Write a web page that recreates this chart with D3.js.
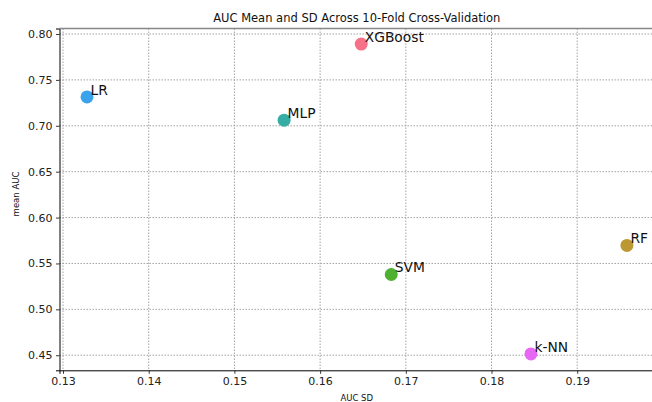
<!DOCTYPE html>
<html>
<head>
<meta charset="utf-8">
<script src="https://cdn.jsdelivr.net/npm/d3@7"></script>
<style>
  body { margin: 0; background: #fff; }
  svg { display: block; font-family: "DejaVu Sans", sans-serif; }
</style>
</head>
<body>
<svg id="chart" width="652" height="402"></svg>
<script>
const models = ["XGBoost", "RF", "SVM", "MLP", "LR", "k-NN"];
const aucSd = [0.1648, 0.1958, 0.1683, 0.1558, 0.1328, 0.1846];
const aucMean = [0.789, 0.5697, 0.538, 0.7061, 0.7314, 0.4514];
const colors = ["#f77189", "#bb9832", "#50b131", "#36ada4", "#3ba3ec", "#e866f4"];
const xTicks = [0.13, 0.14, 0.15, 0.16, 0.17, 0.18, 0.19];
const yTicks = [0.45, 0.50, 0.55, 0.60, 0.65, 0.70, 0.75, 0.80];

const svg = d3.select("#chart");
const plot = { left: 59.5, right: 654, top: 28.5, bottom: 370.3 };

const x = d3.scaleLinear().domain([0.12959, 0.19896]).range([plot.left, plot.right]);
const y = d3.scaleLinear().domain([0.4336, 0.806]).range([plot.bottom, plot.top]);

// grid
const grid = svg.append("g");
grid.selectAll("line.vx")
  .data(xTicks)
  .join("line")
  .attr("x1", d => x(d)).attr("x2", d => x(d))
  .attr("y1", plot.top).attr("y2", plot.bottom)
  .attr("stroke", "#999").attr("stroke-width", 0.9)
  .attr("stroke-dasharray", "1.5,1.5");
grid.selectAll("line.hy")
  .data(yTicks)
  .join("line")
  .attr("x1", plot.left).attr("x2", plot.right)
  .attr("y1", d => y(d)).attr("y2", d => y(d))
  .attr("stroke", "#999").attr("stroke-width", 0.9)
  .attr("stroke-dasharray", "1.5,1.5");

// axes
const xAxis = svg.append("g")
  .attr("transform", `translate(0,${plot.bottom})`)
  .call(d3.axisBottom(x).tickValues(xTicks).tickFormat(d3.format(".2f")).tickSize(3.5).tickPadding(3.5));
const yAxis = svg.append("g")
  .attr("transform", `translate(${plot.left},0)`)
  .call(d3.axisLeft(y).tickValues(yTicks).tickFormat(d3.format(".2f")).tickSize(3.5).tickPadding(3.5));
[xAxis, yAxis].forEach(a => {
  a.selectAll("text").attr("font-size", 11).attr("fill", "#222").attr("font-family", "DejaVu Sans, sans-serif");
  a.select(".domain").attr("stroke", "#000").attr("stroke-width", 1);
  a.selectAll(".tick line").attr("stroke", "#222").attr("stroke-width", 0.9);
});

// top spine (grey)
svg.append("line")
  .attr("x1", plot.left).attr("x2", plot.right)
  .attr("y1", plot.top).attr("y2", plot.top)
  .attr("stroke", "#888").attr("stroke-width", 1.5);

// points
svg.append("g").selectAll("circle")
  .data(models)
  .join("circle")
  .attr("cx", (d, i) => x(aucSd[i]))
  .attr("cy", (d, i) => y(aucMean[i]))
  .attr("r", 6.5)
  .attr("fill", (d, i) => colors[i]);

svg.append("g").selectAll("text")
  .data(models)
  .join("text")
  .attr("x", (d, i) => x(aucSd[i]) + 3.5)
  .attr("y", (d, i) => y(aucMean[i]) - 2.3)
  .attr("font-size", 13.8)
  .attr("fill", "#111")
  .text(d => d);

// title and labels
svg.append("text")
  .attr("x", (plot.left + plot.right) / 2).attr("y", 21.5)
  .attr("text-anchor", "middle").attr("font-size", 11.5).attr("fill", "#111")
  .text("AUC Mean and SD Across 10-Fold Cross-Validation");
svg.append("text")
  .attr("x", (plot.left + plot.right) / 2).attr("y", 401)
  .attr("text-anchor", "middle").attr("font-size", 8.5).attr("fill", "#111")
  .text("AUC SD");
svg.append("text")
  .attr("transform", `translate(19,194) rotate(-90)`)
  .attr("text-anchor", "middle").attr("font-size", 8.5).attr("fill", "#111")
  .text("mean AUC");
</script>
</body>
</html>
